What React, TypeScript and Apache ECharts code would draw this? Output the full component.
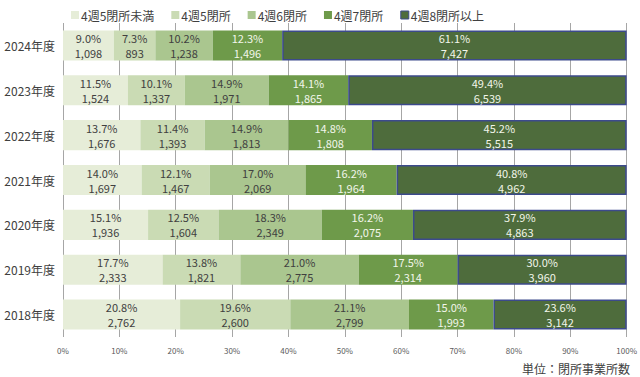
import React, { useEffect, useRef } from "react";
import * as echarts from "echarts";

const years = ["2024年度", "2023年度", "2022年度", "2021年度", "2020年度", "2019年度", "2018年度"];
const seriesNames = ["4週5閉所未満", "4週5閉所", "4週6閉所", "4週7閉所", "4週8閉所以上"];

const pctUnder5 = [9.0, 11.5, 13.7, 14.0, 15.1, 17.7, 20.8];
const pct5 = [7.3, 10.1, 11.4, 12.1, 12.5, 13.8, 19.6];
const pct6 = [10.2, 14.9, 14.9, 17.0, 18.3, 21.0, 21.1];
const pct7 = [12.3, 14.1, 14.8, 16.2, 16.2, 17.5, 15.0];
const pct8 = [61.1, 49.4, 45.2, 40.8, 37.9, 30.0, 23.6];

const cntUnder5 = [1098, 1524, 1676, 1697, 1936, 2333, 2762];
const cnt5 = [893, 1337, 1393, 1467, 1604, 1821, 2600];
const cnt6 = [1238, 1971, 1813, 2069, 2349, 2775, 2799];
const cnt7 = [1496, 1865, 1808, 1964, 2075, 2314, 1993];
const cnt8 = [7427, 6539, 5515, 4962, 4863, 3960, 3142];

const xTicks = [0, 10, 20, 30, 40, 50, 60, 70, 80, 90, 100];

const colors = ["#e6edd8", "#cadbb4", "#aac68f", "#6e9a4a", "#4e6c3c"];
const labelColors = ["#404040", "#404040", "#404040", "#f2f6ea", "#f2f6ea"];

export default function App() {
  const ref = useRef<HTMLDivElement>(null);
  useEffect(() => {
    if (!ref.current) return;
    document.body.style.margin = "0";
    const chart = echarts.init(ref.current, undefined, { renderer: "svg" });
    const pcts = [pctUnder5, pct5, pct6, pct7, pct8];
    const cnts = [cntUnder5, cnt5, cnt6, cnt7, cnt8];
    const totals = years.map((_, i) => cnts.reduce((s, c) => s + c[i], 0));
    const font = "'Noto Sans CJK JP', 'Noto Sans', sans-serif";
    chart.setOption({
      animation: false,
      textStyle: { fontFamily: font },
      legend: {
        top: 4,
        left: 66,
        itemWidth: 8,
        itemHeight: 8,
        itemGap: 17,
        textStyle: { fontSize: 12, color: "#404040", fontFamily: font, padding: [0, 0, 0, -3] },
        data: seriesNames.map((n, i) => ({
          name: n,
          icon: "rect",
          itemStyle: i === 4 ? { color: colors[4], borderColor: "#3c4a8c", borderWidth: 1 } : { color: colors[i] },
        })),
      },
      grid: { left: 63, right: 10, top: 23, bottom: 40 },
      xAxis: {
        type: "value",
        min: 0,
        max: 100,
        interval: 10,
        axisLine: { show: false },
        axisTick: { show: false },
        splitLine: { show: true, lineStyle: { color: "#a6a6a6", width: 1 } },
        axisLabel: {
          fontSize: 8,
          color: "#595959",
          margin: 9,
          formatter: (v: number) => (xTicks.includes(v) ? `${v}%` : ""),
        },
      },
      yAxis: {
        type: "category",
        data: years,
        inverse: true,
        axisLine: { show: false },
        axisTick: { show: false },
        axisLabel: { fontSize: 12, color: "#404040", margin: 8 },
      },
      series: seriesNames.map((name, si) => ({
        name,
        type: "bar",
        stack: "total",
        barCategoryGap: "33%",
        itemStyle:
          si === 4
            ? { color: colors[si], borderColor: "#3c4a8c", borderWidth: 1.5 }
            : { color: colors[si] },
        label: {
          show: true,
          position: "inside",
          color: labelColors[si],
          fontSize: 11,
          lineHeight: 15,
          fontFamily: font,
          formatter: (p: any) =>
            `${pcts[si][p.dataIndex].toFixed(1)}%\n${cnts[si][p.dataIndex].toLocaleString("en-US")}`,
        },
        data: cnts[si].map((c, i) => (c / totals[i]) * 100),
      })),
      graphic: [
        {
          type: "text",
          right: 10,
          bottom: 3,
          style: { text: "単位：閉所事業所数", fontSize: 12, fill: "#404040", fontFamily: font },
        },
      ],
    });
    return () => chart.dispose();
  }, []);
  return <div ref={ref} style={{ position: "absolute", left: 0, top: 0, width: 640, height: 377 }} />;
}
